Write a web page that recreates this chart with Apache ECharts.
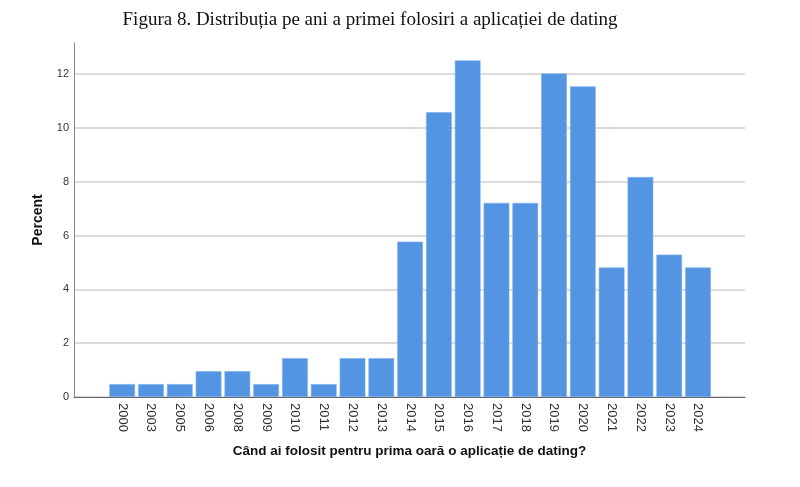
<!DOCTYPE html>
<html>
<head>
<meta charset="utf-8">
<script src="https://cdn.jsdelivr.net/npm/echarts@6/dist/echarts.min.js"></script>
<style>
  html, body { margin: 0; padding: 0; background: #fff; }
  #main { width: 800px; height: 487px; }
</style>
</head>
<body>
<div id="main"></div>
<script>
var years = ['2000', '2003', '2005', '2006', '2008', '2009', '2010', '2011', '2012', '2013',
             '2014', '2015', '2016', '2017', '2018', '2019', '2020', '2021', '2022', '2023', '2024'];
var percent = [0.48, 0.48, 0.48, 0.96, 0.96, 0.48, 1.44, 0.48, 1.44, 1.44,
               5.77, 10.58, 12.5, 7.21, 7.21, 12.02, 11.54, 4.81, 8.17, 5.29, 4.81];
var yMax = 13.15;

var myChart = echarts.init(document.getElementById('main'));

var option = {
  animation: false,
  title: {
    text: 'Figura 8. Distribuția pe ani a primei folosiri a aplicației de dating',
    left: 365,
    textAlign: 'center',
    top: 6,
    textStyle: {
      fontFamily: '"Liberation Serif", "Times New Roman", serif',
      fontSize: 19,
      fontWeight: 'normal',
      color: '#111'
    }
  },
  grid: [
    // frame: axis lines + gridlines
    { left: 74, right: 55, top: 43, bottom: 90 },
    // bars, inset like the reference
    { left: 107.8, width: 604.6, top: 43, bottom: 90 }
  ],
  xAxis: [
    {
      gridIndex: 0,
      type: 'value',
      min: 0,
      max: 1,
      axisLine: { show: true, onZero: false, lineStyle: { color: '#666', width: 1 } },
      axisTick: { show: false },
      axisLabel: { show: false },
      splitLine: { show: false },
      name: 'Când ai folosit pentru prima oară o aplicație de dating?',
      nameLocation: 'middle',
      nameGap: 47,
      nameTextStyle: {
        fontFamily: 'Arial, "Liberation Sans", sans-serif',
        fontSize: 13.5,
        fontWeight: 'bold',
        color: '#111'
      }
    },
    {
      gridIndex: 1,
      type: 'category',
      data: years,
      axisLine: { show: false },
      axisTick: { show: false },
      axisLabel: {
        rotate: -90,
        margin: 6,
        interval: 0,
        fontFamily: 'Arial, "Liberation Sans", sans-serif',
        fontSize: 13,
        color: '#333'
      }
    }
  ],
  yAxis: [
    {
      gridIndex: 0,
      type: 'value',
      min: 0,
      max: yMax,
      interval: 2,
      axisLine: { show: true, lineStyle: { color: '#888', width: 1 } },
      axisTick: { show: false },
      axisLabel: {
        showMaxLabel: false,
        margin: 5,
        fontFamily: 'Arial, "Liberation Sans", sans-serif',
        fontSize: 11,
        color: '#333'
      },
      splitLine: {
        show: true,
        lineStyle: {
          color: ['#cfcfcf', '#cfcfcf', '#cfcfcf', '#cfcfcf', '#cfcfcf', '#cfcfcf', '#cfcfcf', 'rgba(0,0,0,0)'],
          width: 1.5
        }
      },
      name: 'Percent',
      nameLocation: 'middle',
      nameGap: 29,
      nameTextStyle: {
        fontFamily: 'Arial, "Liberation Sans", sans-serif',
        fontSize: 14,
        fontWeight: 'bold',
        color: '#111'
      }
    },
    {
      gridIndex: 1,
      type: 'value',
      min: 0,
      max: yMax,
      show: false
    }
  ],
  series: [{
    name: 'Percent',
    type: 'bar',
    xAxisIndex: 1,
    yAxisIndex: 1,
    data: percent,
    barCategoryGap: '10.7%',
    itemStyle: {
      color: '#5394e3',
      borderColor: '#7fb0ec',
      borderWidth: 0.6
    }
  }]
};

myChart.setOption(option);
</script>
</body>
</html>
